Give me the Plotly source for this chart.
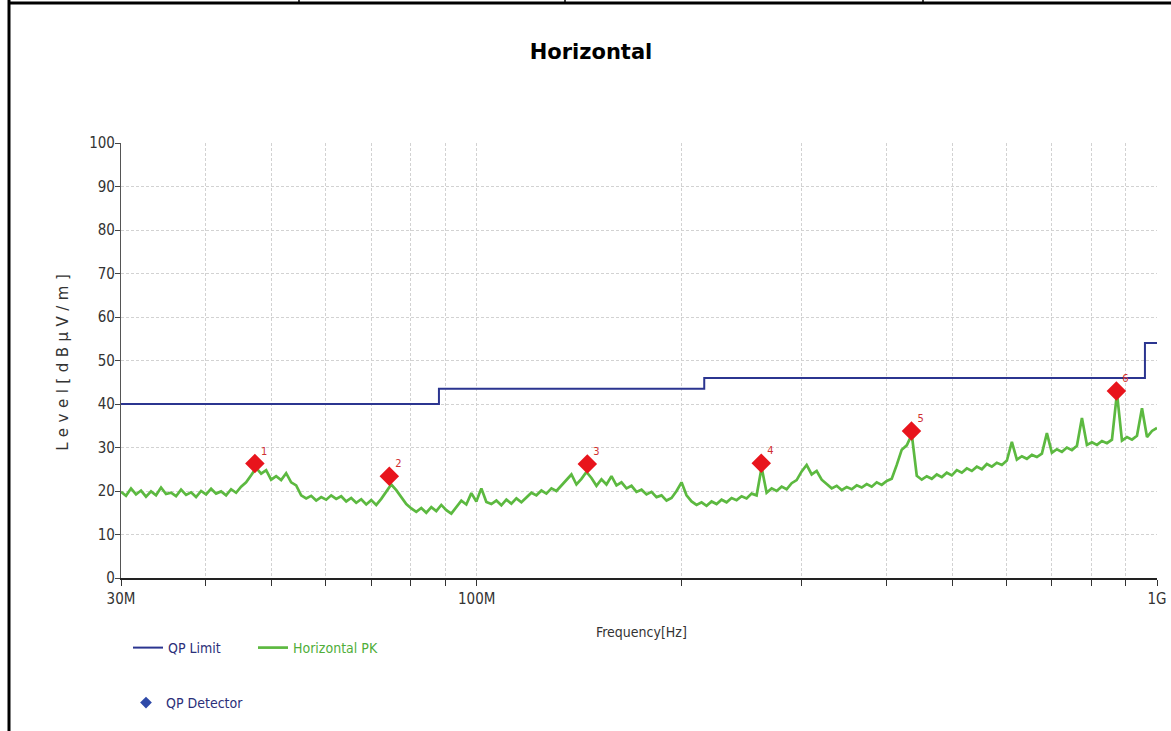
import numpy as np
import plotly.graph_objects as go

# ---------------- data ----------------
# QP limit (FCC class B style steps), frequency in Hz, level in dBuV/m
limit_freq = [30e6, 88e6, 88e6, 216e6, 216e6, 960e6, 960e6, 1000e6]
limit_level = [40.0, 40.0, 43.5, 43.5, 46.0, 46.0, 54.0, 54.0]

# Horizontal PK trace levels (30 MHz -> 1 GHz)
pk_levels = [
    19.8, 18.9, 20.6, 19.2, 20.1, 18.7, 19.9, 19.0, 20.8, 19.3,
    19.6, 18.8, 20.3, 19.1, 19.7, 18.6, 20.0, 19.2, 20.5, 19.4,
    19.9, 19.0, 20.4, 19.6, 21.0, 22.0, 23.6, 25.3, 24.0, 24.8,
    22.6, 23.4, 22.5, 24.1, 22.0, 21.3, 19.0, 18.3, 18.9, 17.8,
    18.6, 18.0, 19.0, 18.2, 18.8, 17.6, 18.4, 17.3, 18.1, 16.9,
    17.9, 16.8, 18.2, 20.0, 21.5, 20.2, 18.6, 17.0, 16.0, 15.2,
    16.1, 15.0, 16.3, 15.4, 16.8, 15.6, 14.8, 16.2, 17.8, 16.9,
    19.5, 17.6, 20.6, 17.5, 17.0, 17.8, 16.7, 18.0, 17.1, 18.3,
    17.4, 18.5, 19.6, 19.0, 20.1, 19.4, 20.6, 20.0, 21.2, 22.6,
    23.8, 21.5, 22.8, 24.4, 23.0, 21.2, 22.7, 21.5, 23.4, 21.3,
    22.0, 20.6, 21.2, 19.8, 20.3, 19.2, 19.8, 18.6, 19.0, 17.8,
    18.4, 20.0, 22.0, 19.0, 17.6, 16.8, 17.4, 16.6, 17.6, 17.0,
    18.0, 17.4, 18.4, 17.9, 18.8, 18.3, 19.4, 19.0, 25.4, 19.6,
    20.6, 20.0, 21.0, 20.4, 21.8, 22.5, 24.5, 26.0, 23.8, 24.6,
    22.6, 21.6, 20.6, 21.2, 20.2, 20.9, 20.4, 21.3, 20.8, 21.6,
    21.0, 22.0, 21.4, 22.3, 22.8, 26.0, 29.5, 30.5, 33.0, 23.5,
    22.6, 23.4, 22.8, 23.8, 23.2, 24.2, 23.6, 24.8, 24.2, 25.2,
    24.6, 25.6, 25.0, 26.2, 25.6, 26.5, 26.0, 27.0, 31.3, 27.2,
    28.0, 27.4, 28.3, 27.8, 28.6, 33.3, 28.8, 29.6, 29.0, 30.0,
    29.4, 30.4, 36.8, 30.6, 31.2, 30.6, 31.5, 31.0, 31.8, 42.5,
    31.6, 32.4, 31.8, 32.7, 39.0, 32.4, 33.8, 34.5,
]
# sweep points of the analyser (log-spaced frequency grid)
pk_freq = np.geomspace(30e6, 1e9, len(pk_levels))

# QP detector readings
qp_freq = [47.2e6, 74.4e6, 145.4e6, 262.0e6, 435.6e6, 871.5e6]
qp_level = [26.3, 23.4, 26.2, 26.4, 33.8, 43.0]
qp_labels = ["1", "2", "3", "4", "5", "6"]

# axis ticks
x_tickvals = [30e6, 40e6, 50e6, 60e6, 70e6, 80e6, 90e6,
              100e6, 200e6, 300e6, 400e6, 500e6, 600e6, 700e6, 800e6, 900e6, 1e9]
x_ticktext = ["30M", "", "", "", "", "", "", "100M",
              "", "", "", "", "", "", "", "", "1G"]
y_tickvals = [0, 10, 20, 30, 40, 50, 60, 70, 80, 90, 100]

# ---------------- styling ----------------
NARROW = "Liberation Sans Narrow, Arial Narrow, DejaVu Sans Condensed, Liberation Sans, sans-serif"
NAVY = "#2b3590"
GREEN = "#5cb940"
RED = "#e8141c"

fig = go.Figure()

fig.add_trace(go.Scatter(
    x=limit_freq, y=limit_level, mode="lines",
    line=dict(color=NAVY, width=2),
    name="<span style='color:#2b2f7a'>QP Limit</span>",
    legend="legend", hoverinfo="skip",
))
fig.add_trace(go.Scatter(
    x=pk_freq, y=pk_levels, mode="lines",
    line=dict(color=GREEN, width=2.7),
    name="<span style='color:#4fae3a'>Horizontal PK</span>",
    legend="legend", hoverinfo="skip",
))
fig.add_trace(go.Scatter(
    x=qp_freq, y=qp_level, mode="markers",
    marker=dict(symbol="diamond", size=15, color=RED),
    showlegend=False, hoverinfo="skip",
))
# marker numbers
fig.add_trace(go.Scatter(
    x=qp_freq, y=qp_level, mode="markers+text",
    marker=dict(size=8, color="rgba(0,0,0,0)"),
    text=qp_labels, textposition="top right",
    textfont=dict(color="#d03030", size=11, family=NARROW),
    showlegend=False, hoverinfo="skip",
))
# legend entry for the QP detector (blue diamond in the legend)
fig.add_trace(go.Scatter(
    x=[None], y=[None], mode="markers",
    marker=dict(symbol="diamond", size=9, color="#2e49a8"),
    name="<span style='color:#2b2f7a'>QP Detector</span>",
    legend="legend2",
))

# plot area in pixels: left 121, right 1157, top 143, bottom 578
L, R, T, B = 121, 1157, 143, 578
W, H = 1171, 731


def px(x):
    return (x - L) / (R - L)


def py(y):
    return (B - y) / (B - T)


shapes = [
    # left page border
    dict(type="line", xref="paper", yref="paper", x0=px(9), x1=px(9), y0=py(0), y1=py(731),
         line=dict(color="black", width=3)),
    # top page border
    dict(type="line", xref="paper", yref="paper", x0=px(8), x1=px(1171), y0=py(3), y1=py(3),
         line=dict(color="black", width=3)),
]
for xv in [299, 565, 923]:
    shapes.append(dict(type="line", xref="paper", yref="paper", x0=px(xv), x1=px(xv),
                       y0=py(0), y1=py(3), line=dict(color="black", width=1.5)))

annotations = [
    dict(text="Level[dBµV/m]", xref="paper", yref="paper", x=px(63), y=py(360),
         textangle=-90, showarrow=False,
         font=dict(family="DejaVu Sans, Liberation Sans, sans-serif", size=15, color="#333333"),
         xanchor="center", yanchor="middle"),
    dict(text="Frequency[Hz]", xref="paper", yref="paper", x=px(641), y=py(632),
         showarrow=False, font=dict(family=NARROW, size=14, color="#333333"),
         xanchor="center", yanchor="middle"),
]

fig.update_layout(
    width=W, height=H,
    margin=dict(l=L, r=W - R, t=T, b=H - B, autoexpand=False),
    paper_bgcolor="white", plot_bgcolor="white",
    title=dict(text="<b>Horizontal</b>", x=591 / W, xref="container", xanchor="center",
               y=1 - 52 / H, yref="container", yanchor="middle",
               font=dict(family="DejaVu Sans, Liberation Sans, sans-serif", size=21, color="black")),
    shapes=shapes, annotations=annotations,
    legend=dict(orientation="h", x=px(128), y=py(648), xanchor="left", yanchor="middle",
                entrywidth=80, entrywidthmode="pixels",
                font=dict(family=NARROW, size=14), bgcolor="rgba(0,0,0,0)",
                tracegroupgap=0),
    legend2=dict(orientation="h", x=px(126), y=py(703), xanchor="left", yanchor="middle",
                 font=dict(family=NARROW, size=14), bgcolor="rgba(0,0,0,0)"),
    showlegend=True,
)

fig.update_xaxes(
    type="log", range=[np.log10(30e6), 9], automargin=False,
    tickvals=x_tickvals, ticktext=x_ticktext,
    showgrid=True, gridcolor="#d2d2d2", griddash="3px,2px", gridwidth=1,
    ticks="outside", ticklen=6, tickcolor="#333333", tickwidth=1,
    showline=True, linecolor="#222222", linewidth=1.5,
    zeroline=False, tickfont=dict(family=NARROW, size=15, color="#333333"),
)
fig.update_yaxes(
    range=[0, 100], tickvals=y_tickvals, automargin=False,
    showgrid=True, gridcolor="#d2d2d2", griddash="3px,2px", gridwidth=1,
    ticks="outside", ticklen=5, tickcolor="#444444", tickwidth=1,
    showline=True, linecolor="#555555", linewidth=1.2, ticklabelstandoff=-3,
    zeroline=False, tickfont=dict(family=NARROW, size=15, color="#333333"),
)

post = """
document.body.style.margin = '0';
document.body.style.overflow = 'hidden';
document.querySelectorAll('text').forEach(function (t) {
  if (t.textContent.indexOf('Level[') === 0) { t.style.letterSpacing = '5.5px'; }
});
"""

fig.write_html("out.html", post_script=post, config={"displayModeBar": False})
